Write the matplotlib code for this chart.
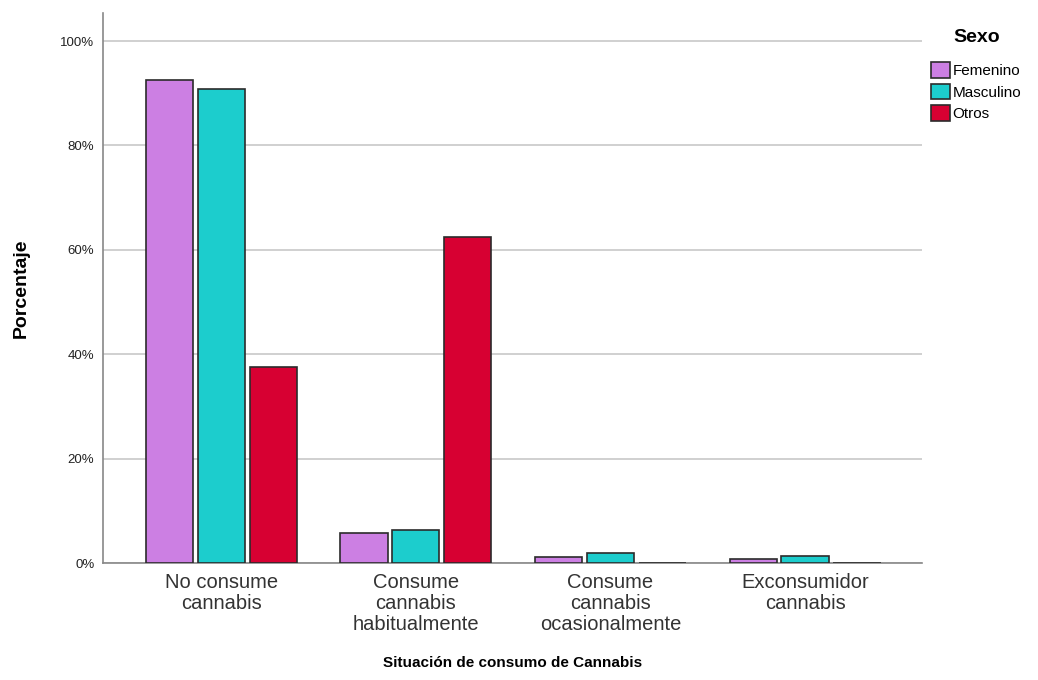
import numpy as np
import matplotlib
matplotlib.use("Agg")
import matplotlib.pyplot as plt
from matplotlib.patches import Patch

plt.rcParams['font.family'] = ['Liberation Sans', 'DejaVu Sans']

categories = ["No consume\ncannabis", "Consume\ncannabis\nhabitualmente",
              "Consume\ncannabis\nocasionalmente", "Exconsumidor\ncannabis"]
series = ["Femenino", "Masculino", "Otros"]
femenino = [92.5, 5.7, 1.1, 0.8]
masculino = [90.8, 6.3, 1.9, 1.3]
otros = [37.5, 62.5, 0.1, 0.1]
colors = ["#cc7fe3", "#1ccdcd", "#d70032"]

fig = plt.figure(figsize=(10.38, 6.8), dpi=100)
ax = fig.add_axes([0.099, 0.172, 0.789, 0.809])

x = np.arange(len(categories))
w = 0.242
step = 0.267
for i, vals in enumerate([femenino, masculino, otros]):
    ax.bar(x + (i - 1) * step, vals, width=w, color=colors[i],
           edgecolor="#2b2b2b", linewidth=1.2, zorder=3)

ax.set_xlim(-0.61, 3.6)
ax.set_ylim(0, 105.4)
ax.set_yticks([0, 20, 40, 60, 80, 100])
ax.set_yticklabels([f"{v}%" for v in [0, 20, 40, 60, 80, 100]], fontsize=9.5, color="#222222")
ax.set_xticks(x)
ax.set_xticklabels(categories, fontsize=14.5, color="#333333", linespacing=1.15)
ax.tick_params(axis='both', length=0, pad=6)
ax.tick_params(axis='x', pad=7)
ax.grid(axis='y', color="#c8c8c8", linewidth=1.2, zorder=0)

for s in ["top", "right"]:
    ax.spines[s].set_visible(False)
ax.spines["left"].set_color("#888888")
ax.spines["bottom"].set_color("#888888")
ax.spines["left"].set_linewidth(1.2)
ax.spines["bottom"].set_linewidth(1.2)

ax.set_ylabel("Porcentaje", fontsize=14, fontweight="bold", labelpad=22)
ax.set_xlabel("Situación de consumo de Cannabis", fontsize=11, fontweight="bold",
              labelpad=16)

handles = [Patch(facecolor=c, edgecolor="#2b2b2b", linewidth=1.2) for c in colors]
leg = fig.legend(handles, series, title="Sexo", loc="upper left",
                 bbox_to_anchor=(0.884, 0.978), frameon=False, fontsize=11,
                 title_fontproperties={'weight': 'bold', 'size': 14},
                 handlelength=1.2, handleheight=1.2, handletextpad=0.2,
                 labelspacing=0.35)
leg._legend_box.sep = 12

fig.savefig("out.png", dpi=100)
